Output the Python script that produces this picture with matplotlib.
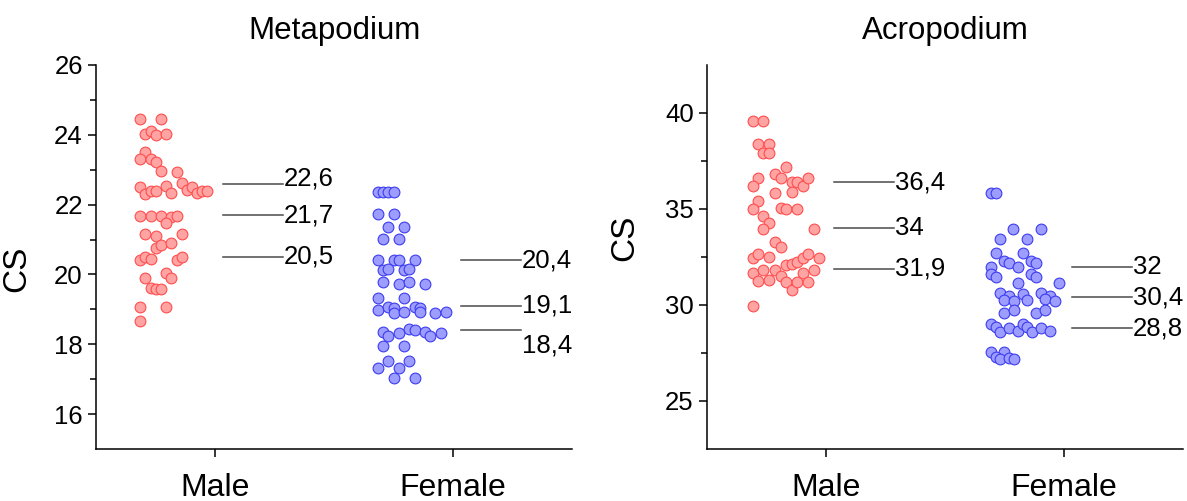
import numpy as np
import matplotlib.pyplot as plt

plt.rcParams['font.family'] = ['Liberation Sans', 'DejaVu Sans']

categorias = ['Male', 'Female']

# Metapodium - puntos (x en unidades de categoria, y = CS)
meta_male_x = [0.685, 0.772, 0.706, 0.730, 0.752, 0.794, 0.706, 0.685, 0.730, 0.752,
               0.772, 0.839, 0.860, 0.884, 0.905, 0.926, 0.947, 0.968, 0.685, 0.706,
               0.730, 0.752, 0.794, 0.815, 0.685, 0.730, 0.772, 0.815, 0.839, 0.794,
               0.706, 0.752, 0.860, 0.752, 0.772, 0.815, 0.685, 0.706, 0.730, 0.839,
               0.860, 0.794, 0.815, 0.706, 0.730, 0.752, 0.772, 0.685, 0.794, 0.685]
meta_male_y = [24.44, 24.44, 24.01, 24.11, 23.99, 24.01, 23.50, 23.30, 23.31, 23.23,
               22.95, 22.93, 22.63, 22.43, 22.51, 22.32, 22.40, 22.38, 22.50, 22.30,
               22.39, 22.39, 22.53, 22.34, 21.68, 21.68, 21.68, 21.65, 21.68, 21.46,
               21.15, 21.11, 21.15, 20.76, 20.84, 20.89, 20.41, 20.51, 20.45, 20.41,
               20.49, 20.05, 19.89, 19.89, 19.60, 19.58, 19.58, 19.06, 19.06, 18.66]
meta_female_x = [1.686, 1.707, 1.728, 1.752, 1.686, 1.752, 1.728, 1.795, 1.707, 1.773,
                 1.686, 1.752, 1.773, 1.840, 1.707, 1.728, 1.795, 1.816, 1.707, 1.773,
                 1.816, 1.882, 1.686, 1.795, 1.686, 1.728, 1.752, 1.752, 1.795, 1.840,
                 1.861, 1.861, 1.924, 1.969, 1.707, 1.728, 1.773, 1.816, 1.840, 1.882,
                 1.903, 1.948, 1.707, 1.795, 1.728, 1.816, 1.686, 1.773, 1.752, 1.840]
meta_female_y = [22.37, 22.37, 22.37, 22.35, 21.74, 21.74, 21.37, 21.37, 21.01, 21.01,
                 20.41, 20.41, 20.41, 20.41, 20.13, 20.17, 20.13, 20.17, 19.79, 19.72,
                 19.79, 19.72, 19.32, 19.32, 18.97, 19.08, 19.03, 18.89, 18.93, 19.08,
                 19.03, 18.93, 18.89, 18.92, 18.35, 18.24, 18.32, 18.43, 18.40, 18.35,
                 18.24, 18.32, 17.96, 17.96, 17.53, 17.53, 17.32, 17.32, 17.02, 17.02]
meta_male_stats = [22.6, 21.7, 20.5]
meta_female_stats = [20.4, 19.1, 18.4]

# Acropodium
acro_male_x = [0.692, 0.737, 0.716, 0.762, 0.737, 0.762, 0.832, 0.716, 0.692, 0.786,
               0.810, 0.856, 0.879, 0.902, 0.926, 0.856, 0.786, 0.716, 0.692, 0.810,
               0.832, 0.879, 0.737, 0.762, 0.737, 0.950, 0.786, 0.810, 0.692, 0.716,
               0.762, 0.832, 0.856, 0.879, 0.902, 0.926, 0.972, 0.692, 0.737, 0.786,
               0.810, 0.902, 0.950, 0.716, 0.762, 0.832, 0.856, 0.879, 0.926, 0.692]
acro_male_y = [39.57, 39.57, 38.37, 38.37, 37.90, 37.90, 37.20, 36.63, 36.22, 36.82,
               36.61, 36.42, 36.41, 36.22, 36.63, 35.87, 35.82, 35.42, 35.02, 35.07,
               35.00, 35.02, 34.65, 34.27, 33.94, 33.96, 33.26, 33.04, 32.46, 32.64,
               32.48, 32.10, 32.12, 32.24, 32.46, 32.64, 32.43, 31.65, 31.82, 31.84,
               31.53, 31.67, 31.84, 31.23, 31.32, 31.20, 30.80, 31.20, 31.20, 29.96]
acro_female_x = [1.692, 1.713, 1.787, 1.903, 1.731, 1.846, 1.713, 1.827, 1.748, 1.769,
                 1.860, 1.882, 1.807, 1.692, 1.692, 1.713, 1.860, 1.882, 1.807, 1.979,
                 1.731, 1.769, 1.827, 1.903, 1.941, 1.748, 1.790, 1.846, 1.920, 1.961,
                 1.748, 1.790, 1.882, 1.920, 1.692, 1.713, 1.731, 1.769, 1.807, 1.827,
                 1.846, 1.866, 1.903, 1.941, 1.692, 1.748, 1.713, 1.731, 1.769, 1.790]
acro_female_y = [35.82, 35.82, 33.94, 33.94, 33.42, 33.42, 32.73, 32.73, 32.31, 32.17,
                 32.31, 32.17, 32.00, 32.00, 31.60, 31.47, 31.60, 31.47, 31.13, 31.13,
                 30.64, 30.47, 30.57, 30.64, 30.47, 30.26, 30.22, 30.26, 30.30, 30.21,
                 29.60, 29.74, 29.60, 29.74, 28.99, 28.84, 28.58, 28.79, 28.65, 28.99,
                 28.84, 28.58, 28.79, 28.65, 27.54, 27.55, 27.27, 27.17, 27.22, 27.17]
acro_male_stats = [36.4, 34, 31.9]
acro_female_stats = [32, 30.4, 28.8]

rojo_cara, rojo_borde = '#ffa3a3', '#ff4d4d'
azul_cara, azul_borde = '#9d9dff', '#3c3cf0'


def etiqueta(v):
    s = f'{v:g}'
    return s.replace('.', ',')


def panel(ax, titulo, mx, my, fx, fy, mstats, fstats, ylim, mayor, menor, desplaz):
    ax.scatter(mx, my, s=60, facecolor=rojo_cara, edgecolor=rojo_borde, linewidth=0.8, zorder=3)
    ax.scatter(fx, fy, s=60, facecolor=azul_cara, edgecolor=azul_borde, linewidth=0.8, zorder=3)
    for i, stats in enumerate([mstats, fstats]):
        c = i + 1
        for j, v in enumerate(stats):
            ax.plot([c + 0.035, c + 0.285], [v, v], color='#4a4a4a', lw=1.1)
            ax.annotate(etiqueta(v), xy=(c + 0.29, v), xytext=(0, desplaz[i][j]),
                        textcoords='offset points', ha='left', va='center', fontsize=18.5)
    ax.set_xlim(0.5, 2.5)
    ax.set_ylim(*ylim)
    ax.set_xticks([1, 2])
    ax.set_xticklabels(categorias, fontsize=23)
    ax.set_yticks(mayor)
    ax.set_yticks(menor, minor=True)
    ax.tick_params(axis='y', labelsize=18.5, length=6, width=1.1, direction='out')
    ax.tick_params(axis='y', which='minor', length=4, width=1.1)
    ax.tick_params(axis='x', length=6, width=1.1, pad=11)
    for lado in ['top', 'right']:
        ax.spines[lado].set_visible(False)
    for lado in ['left', 'bottom']:
        ax.spines[lado].set_linewidth(1.1)
    ax.set_title(titulo, fontsize=22.5, pad=19)
    ax.set_ylabel('CS', fontsize=24)


fig = plt.figure(figsize=(11.87, 5.01), dpi=100)
ax1 = fig.add_axes([0.0809, 0.1038, 0.401, 0.7665])
ax2 = fig.add_axes([0.5956, 0.1038, 0.401, 0.7665])

panel(ax1, 'Metapodium', meta_male_x, meta_male_y, meta_female_x, meta_female_y,
      meta_male_stats, meta_female_stats, (15, 26), np.arange(16, 27, 2), np.arange(17, 26, 2),
      [[4, 0, 0], [0, 0, -11]])
panel(ax2, 'Acropodium', acro_male_x, acro_male_y, acro_female_x, acro_female_y,
      acro_male_stats, acro_female_stats, (22.5, 42.5), [25, 30, 35, 40], [27.5, 32.5, 37.5],
      [[0, 0, 0], [0, 0, 0]])
ax1.yaxis.set_label_coords(-0.135, 0.47)
ax2.yaxis.set_label_coords(-0.14, 0.55)

plt.savefig('out.png', dpi=100)
